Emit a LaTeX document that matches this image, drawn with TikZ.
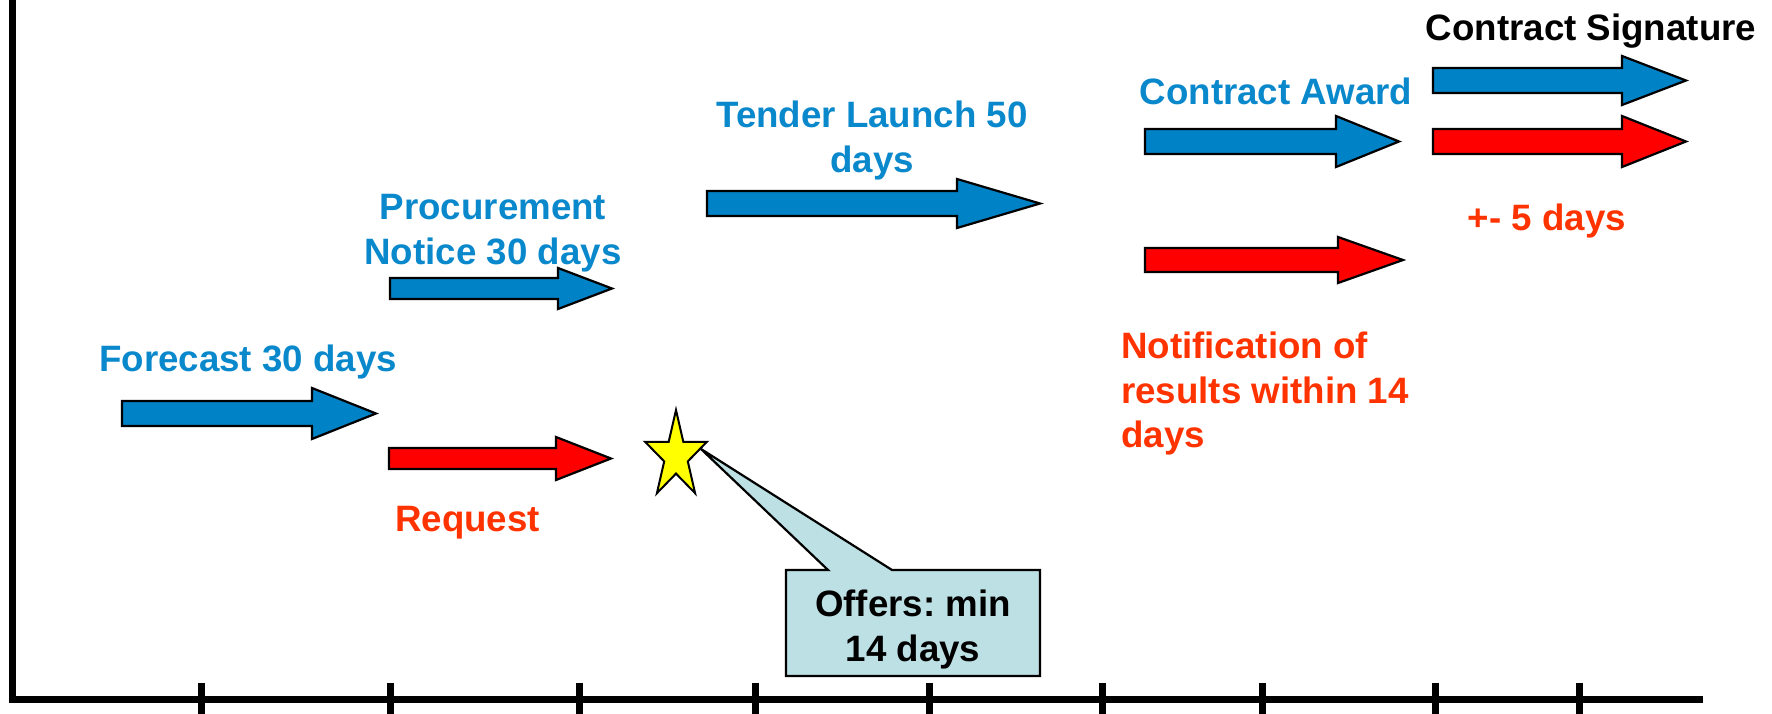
\documentclass[tikz,border=0pt]{standalone}
\usepackage{fontspec}
\setmainfont{Liberation Sans}
\frenchspacing
\definecolor{arrblue}{RGB}{0,130,198}
\definecolor{txtblue}{RGB}{10,136,204}
\definecolor{arrred}{RGB}{255,0,0}
\definecolor{txtred}{RGB}{255,51,0}
\definecolor{callfill}{RGB}{188,224,227}
\definecolor{staryellow}{RGB}{255,255,0}
% #1 colour, #2 left x, #3 head start x, #4 tip x, #5 mid y, #6 shaft half height, #7 head half height
\newcommand\myblockarrow[7]{%
  \draw[arrowbody, fill=#1] (#2,#5-#6) -- (#3,#5-#6) -- (#3,#5-#7) -- (#4,#5)
    -- (#3,#5+#7) -- (#3,#5+#6) -- (#2,#5+#6) -- cycle;}
\begin{document}
\begin{tikzpicture}[x=1pt,y=-1pt,
  arrowbody/.style={draw=black, line width=2.2pt, line join=miter},
  lbl/.style={inner sep=0pt, font=\fontsize{36.7}{44.5}\selectfont\bfseries\frenchspacing},
  axisline/.style={line width=7pt, draw=black},
  calloutbox/.style={draw=black, fill=callfill, line width=2.2pt, line join=miter},
  starshape/.style={draw=black, fill=staryellow, line width=2pt, line join=miter}]
\useasboundingbox (0,0) rectangle (1772,714);
\fill[white] (0,0) rectangle (1772,714);

% axes
\draw[axisline, line join=miter] (12,0) -- (12,699) -- (1703,699);
\foreach \t in {201,390,579,755,929,1102,1262,1435,1579}
  \draw[axisline] (\t,683) -- (\t,714);

% block arrows
\myblockarrow{arrblue}{122}{312}{376}{413.5}{12.5}{25.5}
\myblockarrow{arrred}{389}{556}{611}{458.5}{10.5}{21.5}
\myblockarrow{arrblue}{390}{558}{612}{288.5}{10.5}{20.5}
\myblockarrow{arrblue}{707}{957}{1040}{203.5}{12.5}{24.5}
\myblockarrow{arrblue}{1145}{1336}{1399}{141.5}{12.5}{25.5}
\myblockarrow{arrred}{1145}{1338}{1403}{260}{12}{23}
\myblockarrow{arrblue}{1433}{1622}{1686}{80.5}{12.5}{24.5}
\myblockarrow{arrred}{1433}{1622}{1686}{141.5}{12.5}{25.5}

% callout with pointer to the star
\coordinate (startip) at (701,449);
\draw[calloutbox] (786,570) -- (828,570) -- (startip) -- (892,570) -- (1040,570)
  -- (1040,676) -- (786,676) -- cycle;
\node[lbl, text=black, align=center, anchor=north] (offers) at (913,617-27) {Offers: min\\14 days};

% star
\draw[starshape] (676,410) -- (683.3,441.8) -- (706.9,441.8) -- (687.8,461.4)
  -- (695.1,493.2) -- (676,473.6) -- (656.9,493.2) -- (664.2,461.4)
  -- (645.1,441.8) -- (668.7,441.8) -- cycle;

% labels
\node[lbl, text=txtblue, anchor=base west] (forecast) at (99,371) {Forecast 30 days};
\node[lbl, text=txtblue, align=center, anchor=north] (procure) at (493,221-26.8) {Procurement\\Notice 30 days};
\node[lbl, text=txtblue, align=center, anchor=north] (tender) at (872,128-26.8) {Tender Launch 50\\days};
\node[lbl, text=txtblue, anchor=base] (award) at (1276,105) {Contract Award};
\node[lbl, text=black, anchor=base] (signature) at (1591,41) {Contract Signature};
\node[lbl, text=txtred, anchor=base] (plusminus) at (1547,230) {+- 5 days};
\node[lbl, text=txtred, anchor=base west] (request) at (395,531) {Request};
\node[lbl, text=txtred, align=left, anchor=north west] (notif) at (1121,359-26.8) {Notification of\\results within 14\\days};
\end{tikzpicture}
\end{document}
